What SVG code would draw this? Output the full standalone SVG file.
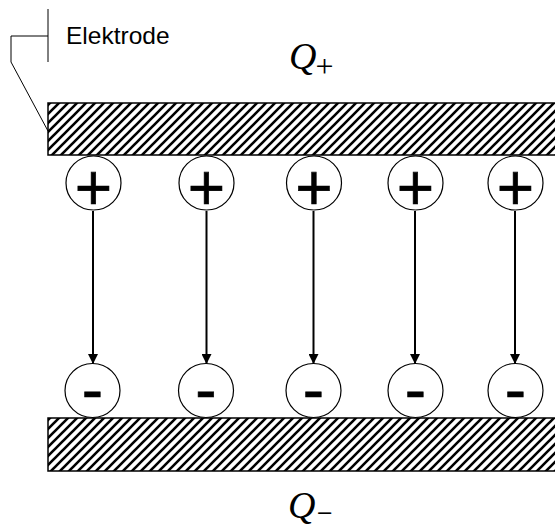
<svg xmlns="http://www.w3.org/2000/svg" width="555" height="528" viewBox="0 0 555 528">
  <style>
    .electrode { fill: url(#hatch); stroke: #000; stroke-width: 1.5; }
    .charge { fill: #fff; stroke: #000; stroke-width: 1.2; }
    .sign { font-family: "Liberation Sans", Arial, sans-serif; font-size: 64px; text-anchor: middle; fill: #000; stroke: #000; stroke-width: 0.6; }
    .conn { stroke: #000; stroke-width: 2; fill: none; }
    .callout { stroke: #000; stroke-width: 1; fill: none; }
    .label { font-family: "Liberation Sans", Arial, sans-serif; font-size: 24.5px; fill: #000; }
    .q { font-family: "Liberation Serif", "Times New Roman", serif; font-style: italic; font-size: 38px; fill: #000; }
    .sub { font-family: "Liberation Serif", "Times New Roman", serif; font-size: 32px; fill: #000; }
    .subm { font-family: "Liberation Serif", "Times New Roman", serif; font-size: 27px; fill: #000; stroke: #000; stroke-width: 0.4; }
  </style>
  <defs>
    <pattern id="hatch" patternUnits="userSpaceOnUse" width="9" height="9">
      <rect width="9" height="9" fill="#fff"/>
      <path d="M-2,2 L2,-2 M0,9 L9,0 M7,11 L11,7" stroke="#000" stroke-width="2.6"/>
    </pattern>
    <marker id="arrow" markerUnits="userSpaceOnUse" markerWidth="10" markerHeight="10" refX="10" refY="5" orient="auto">
      <path d="M0,0 L10,5 L0,10 Z" fill="#000"/>
    </marker>
  </defs>

  <rect width="555" height="528" fill="#fff"/>

  <g id="electrode-top">
    <rect class="electrode" x="48" y="103" width="520" height="52"/>
  </g>
  <g id="electrode-bottom">
    <rect class="electrode" x="48" y="418" width="520" height="53"/>
  </g>

  <g id="callout">
    <path class="callout" d="M48,9 V62 M48,36 H11 V62 L48,131"/>
    <text class="label" x="66" y="44">Elektrode</text>
  </g>

  <g id="label-qplus">
    <text class="q" x="289" y="69">Q</text>
    <text class="sub" x="315.5" y="77">+</text>
  </g>
  <g id="label-qminus">
    <text class="q" x="288" y="518">Q</text>
    <text class="subm" x="317" y="521.5">−</text>
  </g>

  <g id="connectors">
    <line class="conn" x1="93" y1="211" x2="93" y2="364" marker-end="url(#arrow)"/>
    <line class="conn" x1="206.5" y1="211" x2="206.5" y2="364" marker-end="url(#arrow)"/>
    <line class="conn" x1="313.5" y1="211" x2="313.5" y2="364" marker-end="url(#arrow)"/>
    <line class="conn" x1="415" y1="211" x2="415" y2="364" marker-end="url(#arrow)"/>
    <line class="conn" x1="515" y1="211" x2="515" y2="364" marker-end="url(#arrow)"/>
  </g>

  <g id="plus-1"><ellipse class="charge" cx="93.5" cy="183" rx="27.5" ry="27"/><text class="sign" x="93.5" y="210">+</text></g>
  <g id="plus-2"><ellipse class="charge" cx="206.5" cy="183" rx="27.5" ry="27"/><text class="sign" x="206.5" y="210">+</text></g>
  <g id="plus-3"><ellipse class="charge" cx="314" cy="183" rx="27.5" ry="27"/><text class="sign" x="314" y="210">+</text></g>
  <g id="plus-4"><ellipse class="charge" cx="415.5" cy="183" rx="27.5" ry="27"/><text class="sign" x="415.5" y="210">+</text></g>
  <g id="plus-5"><ellipse class="charge" cx="515.5" cy="183" rx="27.5" ry="27"/><text class="sign" x="515.5" y="210">+</text></g>

  <g id="minus-1"><ellipse class="charge" cx="92.5" cy="390.5" rx="27.5" ry="27"/><text class="sign" x="92.5" y="412">-</text></g>
  <g id="minus-2"><ellipse class="charge" cx="206" cy="390.5" rx="27.5" ry="27"/><text class="sign" x="206" y="412">-</text></g>
  <g id="minus-3"><ellipse class="charge" cx="313.5" cy="390.5" rx="27.5" ry="27"/><text class="sign" x="313.5" y="412">-</text></g>
  <g id="minus-4"><ellipse class="charge" cx="415.5" cy="390.5" rx="27.5" ry="27"/><text class="sign" x="415.5" y="412">-</text></g>
  <g id="minus-5"><ellipse class="charge" cx="515.5" cy="390.5" rx="27.5" ry="27"/><text class="sign" x="515.5" y="412">-</text></g>
</svg>
